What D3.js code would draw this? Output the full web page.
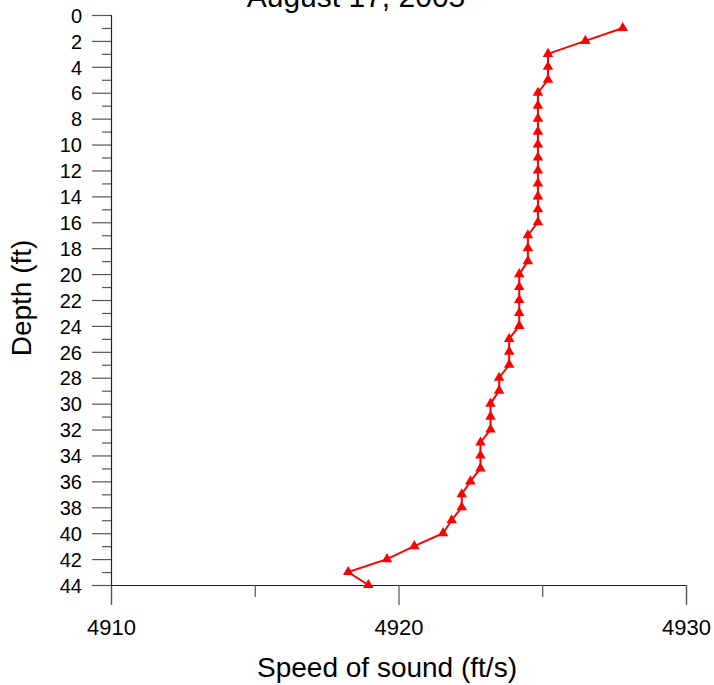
<!DOCTYPE html>
<html>
<head>
<meta charset="utf-8">
<script src="https://cdn.jsdelivr.net/npm/d3@7"></script>
<style>
  body { margin: 0; background: #fff; }
  text { font-family: "Liberation Sans", Arial, sans-serif; fill: #000; }
</style>
</head>
<body>
<div id="chart"></div>
<script>
// sound speed profile, depth in ft vs speed in ft/s
var title = "August 17, 2005";
var depths = [1, 2, 3, 4, 5, 6, 7, 8, 9, 10, 11, 12, 13, 14, 15, 16, 17, 18, 19, 20, 21, 22,
              23, 24, 25, 26, 27, 28, 29, 30, 31, 32, 33, 34, 35, 36, 37, 38, 39, 40, 41, 42, 43, 44];
var speeds = [4927.8, 4926.5, 4925.2, 4925.2, 4925.2,
              4924.85, 4924.85, 4924.85, 4924.85, 4924.85, 4924.85, 4924.85, 4924.85, 4924.85, 4924.85, 4924.85,
              4924.5, 4924.5, 4924.5,
              4924.2, 4924.2, 4924.2, 4924.2, 4924.2,
              4923.85, 4923.85, 4923.85,
              4923.5, 4923.5,
              4923.2, 4923.2, 4923.2,
              4922.85, 4922.85, 4922.85,
              4922.5, 4922.2, 4922.2, 4921.85, 4921.55,
              4920.55, 4919.6, 4918.25, 4918.95];
var xMajor = [4910, 4920, 4930];
var xMinor = [4915, 4925];
var yMajor = d3.range(0, 45, 2);
var yMinor = d3.range(1, 44, 2);

var data = depths.map(function(d, i) { return {depth: d, speed: speeds[i]}; });

var W = 714, H = 685;
var margin = {top: 15, right: 28, bottom: 100, left: 111},
    width = W - margin.left - margin.right,
    height = H - margin.top - margin.bottom;

var svg = d3.select("#chart")
  .append("svg")
    .attr("width", W)
    .attr("height", H);

var g = svg.append("g")
    .attr("transform", "translate(" + margin.left + "," + margin.top + ")");

var x = d3.scaleLinear().domain([4910, 4930]).range([0, width]);
var y = d3.scaleLinear().domain([0, 44]).range([0, height]);

// X axis: long major ticks, short minor ones
var xAxis = g.append("g")
    .attr("transform", "translate(0," + height + ")")
    .call(d3.axisBottom(x).tickValues(xMajor).tickSize(20).tickPadding(14).tickFormat(d3.format("d")));
g.append("g")
    .attr("transform", "translate(0," + height + ")")
    .call(d3.axisBottom(x).tickValues(xMinor).tickSize(12).tickFormat(""))
    .select(".domain").remove();

// Y axis
var yAxis = g.append("g")
    .call(d3.axisLeft(y).tickValues(yMajor).tickSize(19).tickPadding(10).tickFormat(d3.format("d")));
g.append("g")
    .call(d3.axisLeft(y).tickValues(yMinor).tickSize(9).tickFormat(""))
    .select(".domain").remove();

g.selectAll(".domain").attr("stroke", "#222").attr("stroke-width", 1.2);
g.selectAll(".tick line").attr("stroke", "#555").attr("stroke-width", 1.2);
xAxis.selectAll(".tick text").style("font-size", "22px");
yAxis.selectAll(".tick text").style("font-size", "20px").attr("dy", "0.36em");

// the profile line
var line = d3.line()
    .x(function(d) { return x(d.speed); })
    .y(function(d) { return y(d.depth); });

g.append("path")
    .datum(data)
    .attr("fill", "none")
    .attr("stroke", "#ff0000")
    .attr("stroke-width", 2)
    .attr("d", line);

g.selectAll(".pt")
  .data(data)
  .enter()
  .append("path")
    .attr("class", "pt")
    .attr("d", d3.symbol().type(d3.symbolTriangle).size(48))
    .attr("transform", function(d) { return "translate(" + x(d.speed) + "," + y(d.depth) + ")"; })
    .attr("fill", "#ff0000");

// labels (title sits partly above the top edge, as in the source)
svg.append("text")
    .attr("x", 356)
    .attr("y", 7)
    .attr("text-anchor", "middle")
    .style("font-size", "30px")
    .text(title);

svg.append("text")
    .attr("x", 387)
    .attr("y", 677)
    .attr("text-anchor", "middle")
    .style("font-size", "28px")
    .text("Speed of sound (ft/s)");

svg.append("text")
    .attr("transform", "translate(31," + 298 + ")rotate(-90)")
    .attr("text-anchor", "middle")
    .style("font-size", "28px")
    .text("Depth (ft)");
</script>
</body>
</html>
